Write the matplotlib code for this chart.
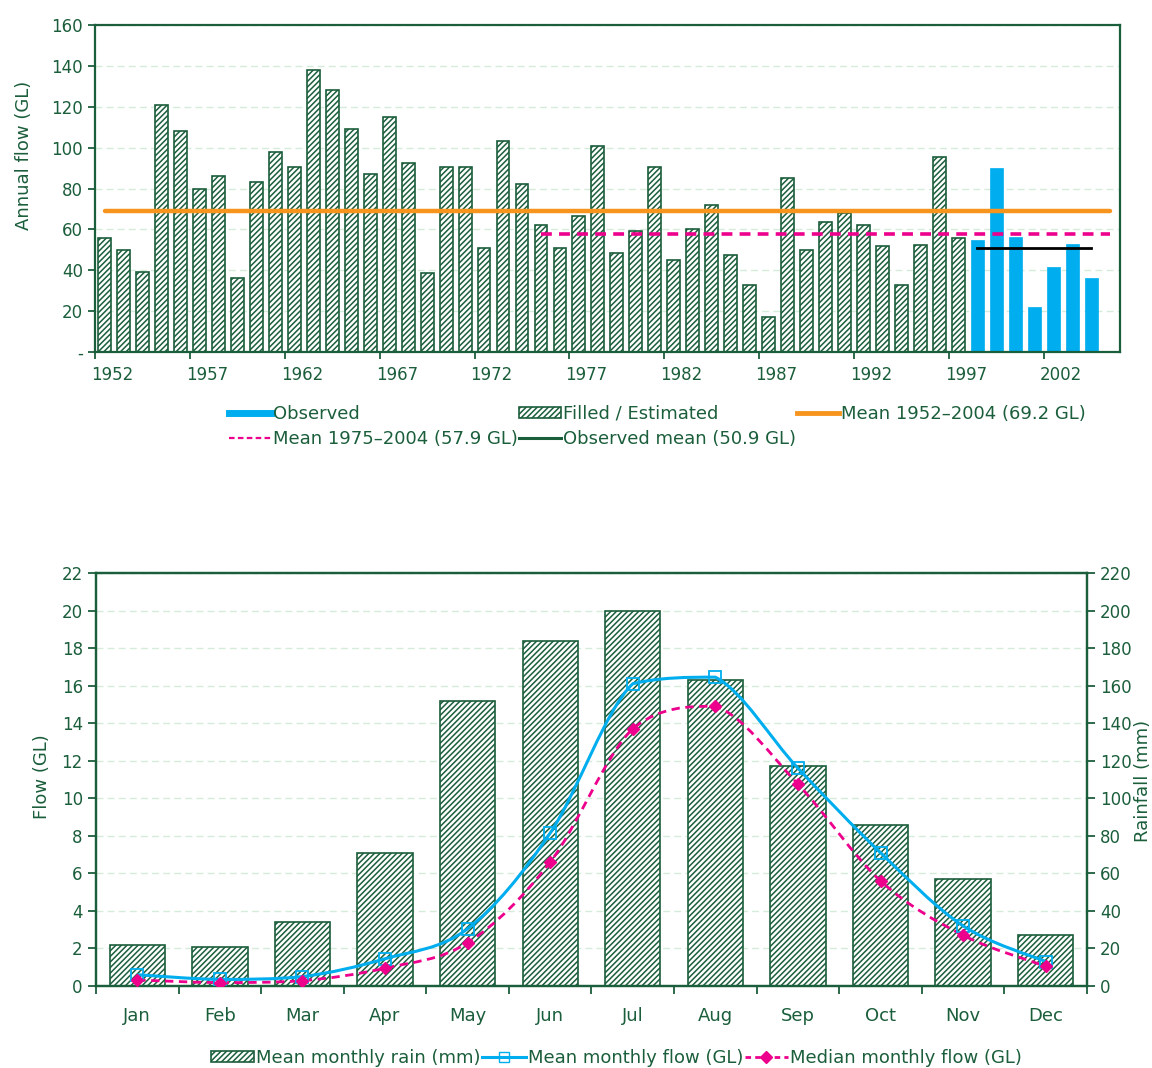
import numpy as np
import matplotlib
matplotlib.use("Agg")
import matplotlib.pyplot as plt
from matplotlib.path import Path
from matplotlib.patches import PathPatch, Patch
from matplotlib.lines import Line2D

# ---------------- data ----------------
filled_years = list(range(1952, 1998))
filled_flow = [56, 50, 39, 121, 108, 80, 86, 36, 83, 98, 90.5, 138, 128, 109, 87, 115,
               92.5, 38.5, 90.5, 90.5, 51, 103, 82, 62, 51, 66.5, 101, 48.5, 59, 90.5,
               45, 60, 72, 47.5, 33, 17, 85, 50, 63.5, 68, 62, 52, 33, 52.5, 95.5, 56]
observed_years = list(range(1998, 2005))
observed_flow = [55, 90, 56.5, 22, 41.5, 53, 36]

mean_all = 69.2
mean_all_span = (1952, 2005)
mean_recent = 57.9
mean_recent_span = (1975, 2005)
mean_observed = 50.9
mean_observed_span = (1998, 2004)
year_tick_labels = ["1952", "1957", "1962", "1967", "1972", "1977", "1982", "1987", "1992", "1997", "2002"]

months = ["Jan", "Feb", "Mar", "Apr", "May", "Jun", "Jul", "Aug", "Sep", "Oct", "Nov", "Dec"]
rain_mm = [22, 20.5, 34, 71, 152, 184, 200, 163, 117, 86, 57, 27]
mean_flow = [0.6, 0.35, 0.5, 1.45, 3.05, 8.15, 16.1, 16.45, 11.6, 7.1, 3.2, 1.3]
median_flow = [0.32, 0.18, 0.28, 0.95, 2.3, 6.6, 13.7, 14.9, 10.75, 5.6, 2.7, 1.05]

# ---------------- style ----------------
GREEN = "#1b5e3b"
GRID = "#d4ecd9"
BLUE = "#00aeef"
ORANGE = "#f7941d"
PINK = "#ec008c"
plt.rcParams["font.family"] = ["DejaVu Sans"]
plt.rcParams["hatch.linewidth"] = 1.1
plt.rcParams["hatch.color"] = GREEN
FS = 12
FL = 13

fig = plt.figure(figsize=(11.52, 10.68), dpi=100)

# ================= top chart =================
ax = fig.add_axes([0.0825, 0.6704, 0.8895, 0.3062])
x0 = 1952
fx = [y - x0 for y in filled_years]
ox = [y - x0 for y in observed_years]
ax.bar(fx, filled_flow, width=0.68, color="white", edgecolor=GREEN, hatch="//////",
       linewidth=1.2, zorder=2)
ax.bar(ox, observed_flow, width=0.68, color=BLUE, edgecolor=BLUE, linewidth=0.5, zorder=2)
ax.plot([mean_all_span[0] - x0, mean_all_span[1] - x0], [mean_all, mean_all],
        color=ORANGE, lw=3.2, solid_capstyle="round", zorder=3)
ax.plot([mean_recent_span[0] - x0, mean_recent_span[1] - x0], [mean_recent, mean_recent],
        color=PINK, lw=2.6, ls=(0, (3, 2)), zorder=4)
ax.plot([mean_observed_span[0] - x0, mean_observed_span[1] - x0], [mean_observed, mean_observed],
        color="black", lw=2.0, zorder=4)

ax.set_xlim(-0.5, 53.5)
ax.set_ylim(0, 160)
ax.set_yticks(np.arange(0, 161, 20))
ax.set_yticklabels(["-"] + [str(v) for v in range(20, 161, 20)])
ax.yaxis.grid(True, color=GRID, ls=(0, (5, 3)), lw=1.0)
ax.set_axisbelow(True)
major = [int(l) - x0 - 0.5 for l in year_tick_labels]
ax.set_xticks(major)
ax.set_xticklabels([""] * len(major))
ax.set_xticks([m + 0.9 for m in major], minor=True)
ax.set_xticklabels(year_tick_labels, minor=True)
ax.tick_params(axis="x", which="minor", length=0, pad=10)
ax.tick_params(axis="x", which="major", length=5, width=1.3, color=GREEN, direction="out")
ax.tick_params(axis="y", length=5, width=1.3, color=GREEN, direction="out")
ax.tick_params(labelsize=FS, labelcolor=GREEN, which="both")
for s in ax.spines.values():
    s.set_color(GREEN)
    s.set_linewidth(1.6)
ax.set_ylabel("Annual flow (GL)", color=GREEN, fontsize=FL)
ax.yaxis.set_label_coords(-0.061, 0.60)

h_obs = Line2D([], [], color=BLUE, lw=5)
h_fill = Patch(facecolor="white", edgecolor=GREEN, hatch="//////", lw=1.2)
h_mall = Line2D([], [], color=ORANGE, lw=3.5)
h_mrec = Line2D([], [], color=PINK, lw=1.6, ls=(0, (2.5, 1.5)))
h_mobs = Line2D([], [], color=GREEN, lw=2.2)
leg = fig.legend([h_obs, h_mrec, h_fill, h_mobs, h_mall],
                 ["Observed", "Mean 1975\u20132004 (57.9 GL)", "Filled / Estimated",
                  "Observed mean (50.9 GL)", "Mean 1952\u20132004 (69.2 GL)"],
                 ncol=3, loc="upper left", bbox_to_anchor=(0.199, 0.621), frameon=False,
                 fontsize=FL, handlelength=2.3, handletextpad=0.1, columnspacing=0.1,
                 labelspacing=0.4, borderpad=0, borderaxespad=0, handleheight=0.55)
for t in leg.get_texts():
    t.set_color(GREEN)

# ================= bottom chart =================
axb = fig.add_axes([0.0833, 0.0768, 0.8603, 0.3867])
axr = axb.twinx()
mx = np.arange(len(months))
axr.bar(mx, rain_mm, width=0.67, color="white", edgecolor=GREEN, hatch="//////",
        linewidth=1.2, zorder=2)
axr.set_ylim(0, 220)
axr.set_yticks(np.arange(0, 221, 20))
axr.yaxis.grid(True, color=GRID, ls=(0, (5, 3)), lw=1.0)
axr.set_axisbelow(True)

axb.set_zorder(axr.get_zorder() + 1)
axb.patch.set_visible(False)


def smooth_path(xs, ys, k=6.0):
    pts = np.column_stack([xs, ys]).astype(float)
    n = len(pts)
    verts = [pts[0]]
    codes = [Path.MOVETO]
    for i in range(n - 1):
        p0 = pts[i - 1] if i > 0 else pts[i]
        p1 = pts[i]
        p2 = pts[i + 1]
        p3 = pts[i + 2] if i + 2 < n else pts[i + 1]
        c1 = p1 + (p2 - p0) / k
        c2 = p2 - (p3 - p1) / k
        lo, hi = min(p1[1], p2[1]), max(p1[1], p2[1])
        c1[1] = min(max(c1[1], lo), hi)
        c2[1] = min(max(c2[1], lo), hi)
        verts += [c1, c2, p2]
        codes += [Path.CURVE4] * 3
    return Path(verts, codes)


axb.add_patch(PathPatch(smooth_path(mx, mean_flow), fill=False, edgecolor=BLUE, lw=2.2,
                        zorder=3))
axb.add_patch(PathPatch(smooth_path(mx, median_flow), fill=False, edgecolor=PINK, lw=2.0,
                        ls=(0, (3, 2)), zorder=3))
axb.plot(mx, mean_flow, ls="none", marker="s", ms=8, mfc="none", mec=BLUE, mew=1.3, zorder=4)
axb.plot(mx, median_flow, ls="none", marker="D", ms=6.5, mfc=PINK, mec=PINK, zorder=4)

axb.set_xlim(-0.5, 11.5)
axb.set_ylim(0, 22)
axb.set_yticks(np.arange(0, 23, 2))
axb.set_xticks(np.arange(-0.5, 12, 1))
axb.set_xticklabels([""] * 13)
axb.set_xticks(mx, minor=True)
axb.set_xticklabels(months, minor=True)
axb.tick_params(axis="x", which="minor", length=0, pad=15)
axb.tick_params(axis="x", which="major", length=6, width=1.3, color=GREEN, direction="out")
axb.tick_params(axis="y", length=6, width=1.3, color=GREEN, direction="out")
axb.tick_params(labelsize=FS, labelcolor=GREEN, which="both")
axb.tick_params(axis="x", which="minor", labelsize=FL)
axr.tick_params(axis="y", length=6, width=1.3, color=GREEN, direction="out",
                labelsize=FS, labelcolor=GREEN)
for a in (axb, axr):
    for s in a.spines.values():
        s.set_color(GREEN)
        s.set_linewidth(1.6)
axb.set_ylabel("Flow (GL)", color=GREEN, fontsize=FL)
axb.yaxis.set_label_coords(-0.0455, 0.506)
axr.set_ylabel("Rainfall (mm)", color=GREEN, fontsize=FL, rotation=90, va="center")
axr.yaxis.set_label_coords(1.0565, 0.496)

hb_rain = Patch(facecolor="white", edgecolor=GREEN, hatch="//////", lw=1.2)
hb_mean = Line2D([], [], color=BLUE, lw=2.2, marker="s", ms=7, mfc="none", mec=BLUE)
hb_med = Line2D([], [], color=PINK, lw=2.0, ls=(0, (2, 1.5)), marker="D", ms=6, mfc=PINK, mec=PINK)
legb = fig.legend([hb_rain, hb_mean, hb_med],
                  ["Mean monthly rain (mm)", "Mean monthly flow (GL)", "Median monthly flow (GL)"],
                  ncol=3, loc="center", bbox_to_anchor=(0.535, 0.0095), frameon=False,
                  fontsize=FL, handlelength=2.4, handletextpad=0.1, columnspacing=0.1,
                  borderpad=0, borderaxespad=0, handleheight=0.55)
for t in legb.get_texts():
    t.set_color(GREEN)

fig.savefig("out.png", dpi=100)
